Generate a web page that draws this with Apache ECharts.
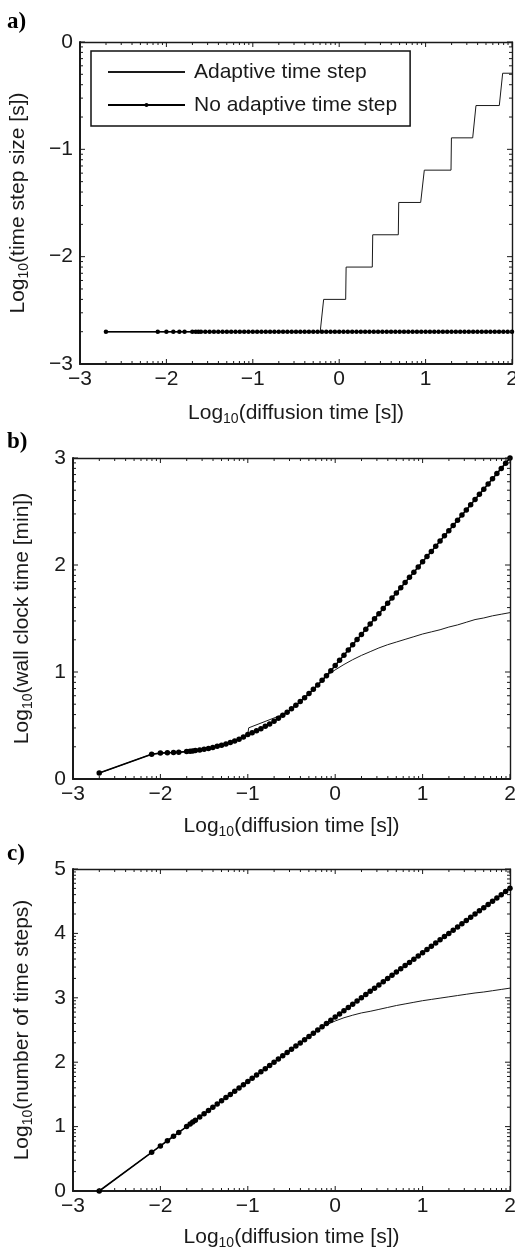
<!DOCTYPE html>
<html>
<head>
<meta charset="utf-8">
<script src="https://cdn.jsdelivr.net/npm/echarts@6/dist/echarts.min.js"></script>
<style>
html, body { margin: 0; padding: 0; background: #fff; }
#chart { width: 515px; height: 1257px; }
</style>
</head>
<body>
<div id="chart"></div>
<script>
// ---- data (all values are log10) ----
var X_TICKS = [-3, -2, -1, 0, 1, 2];
var PANEL_LABELS = ['a)', 'b)', 'c)'];
var Y_NAMES = ['time step size [s]', 'wall clock time [min]', 'number of time steps'];
var X_NAME = 'diffusion time [s]';

// time points of the run without adaptive stepping
var X_FIXED = [-2.70, -2.10, -2.00, -1.92, -1.85, -1.79, -1.70, -1.66, -1.63, -1.60,
  -1.55, -1.50, -1.45, -1.40, -1.35, -1.30, -1.25, -1.20, -1.15, -1.10, -1.05, -1.00,
  -0.95, -0.90, -0.85, -0.80, -0.75, -0.70, -0.65, -0.60, -0.55, -0.50, -0.45, -0.40,
  -0.35, -0.30, -0.25, -0.20, -0.15, -0.10, -0.05, 0.00, 0.05, 0.10, 0.15, 0.20, 0.25,
  0.30, 0.35, 0.40, 0.45, 0.50, 0.55, 0.60, 0.65, 0.70, 0.75, 0.80, 0.85, 0.90, 0.95,
  1.00, 1.05, 1.10, 1.15, 1.20, 1.25, 1.30, 1.35, 1.40, 1.45, 1.50, 1.55, 1.60, 1.65,
  1.70, 1.75, 1.80, 1.85, 1.90, 1.95, 2.00];

// a) time step size
var A_FIXED = [-2.7, -2.7, -2.7, -2.7, -2.7, -2.7, -2.7, -2.7, -2.7, -2.7,
  -2.7, -2.7, -2.7, -2.7, -2.7, -2.7, -2.7, -2.7, -2.7, -2.7, -2.7, -2.7,
  -2.7, -2.7, -2.7, -2.7, -2.7, -2.7, -2.7, -2.7, -2.7, -2.7, -2.7, -2.7,
  -2.7, -2.7, -2.7, -2.7, -2.7, -2.7, -2.7, -2.7, -2.7, -2.7, -2.7, -2.7, -2.7,
  -2.7, -2.7, -2.7, -2.7, -2.7, -2.7, -2.7, -2.7, -2.7, -2.7, -2.7, -2.7, -2.7, -2.7,
  -2.7, -2.7, -2.7, -2.7, -2.7, -2.7, -2.7, -2.7, -2.7, -2.7, -2.7, -2.7, -2.7, -2.7,
  -2.7, -2.7, -2.7, -2.7, -2.7, -2.7, -2.7];
var A_ADAPT_X = [-2.70, -0.22, -0.18, 0.075, 0.08, 0.383, 0.388, 0.684, 0.689,
  0.943, 0.985, 1.294, 1.299, 1.545, 1.583, 1.853, 1.892, 2.00];
var A_ADAPT_Y = [-2.7, -2.7, -2.398, -2.398, -2.097, -2.097, -1.796, -1.796, -1.495,
  -1.495, -1.194, -1.194, -0.893, -0.893, -0.592, -0.592, -0.291, -0.291];

// b) wall clock time
var B_FIXED = [0.055, 0.232, 0.242, 0.246, 0.248, 0.250, 0.256, 0.259, 0.262, 0.266,
  0.272, 0.278, 0.285, 0.294, 0.305, 0.316, 0.327, 0.340, 0.355, 0.371, 0.392, 0.415,
  0.432, 0.450, 0.470, 0.492, 0.515, 0.540, 0.567, 0.595, 0.625, 0.656, 0.689, 0.724,
  0.760, 0.798, 0.838, 0.879, 0.922, 0.966, 1.012, 1.060, 1.109, 1.157, 1.206, 1.254, 1.303,
  1.351, 1.400, 1.448, 1.497, 1.545, 1.594, 1.642, 1.691, 1.739, 1.788, 1.836, 1.885, 1.933, 1.982,
  2.030, 2.079, 2.127, 2.176, 2.224, 2.273, 2.321, 2.370, 2.418, 2.467, 2.515, 2.564, 2.612, 2.661,
  2.709, 2.758, 2.806, 2.855, 2.903, 2.952, 3.000];
var B_ADAPT_X = [-2.70, -2.10, -2.00, -1.85, -1.70, -1.60, -1.50, -1.40, -1.30, -1.20, -1.10, -1.00,
  -0.99, -0.60, -0.50, -0.40, -0.30, -0.20, -0.10, -0.05, 0.00,
  0.10, 0.20, 0.30, 0.40, 0.50, 0.60, 0.70, 0.80, 0.90, 1.00,
  1.10, 1.20, 1.30, 1.40, 1.50, 1.60, 1.70, 1.80, 1.90, 2.00];
var B_ADAPT_Y = [0.055, 0.232, 0.242, 0.248, 0.256, 0.266, 0.278, 0.294, 0.316, 0.340, 0.371, 0.415,
  0.478, 0.602, 0.656, 0.724, 0.798, 0.879, 0.962, 0.993, 1.020,
  1.070, 1.115, 1.155, 1.190, 1.225, 1.255, 1.280, 1.305, 1.330, 1.355,
  1.375, 1.395, 1.420, 1.440, 1.465, 1.490, 1.505, 1.525, 1.540, 1.555];

// c) number of time steps
var C_FIXED = [0.00, 0.60, 0.70, 0.78, 0.85, 0.91, 1.00, 1.04, 1.07, 1.10,
  1.15, 1.20, 1.25, 1.30, 1.35, 1.40, 1.45, 1.50, 1.55, 1.60, 1.65, 1.70,
  1.75, 1.80, 1.85, 1.90, 1.95, 2.00, 2.05, 2.10, 2.15, 2.20, 2.25, 2.30,
  2.35, 2.40, 2.45, 2.50, 2.55, 2.60, 2.65, 2.70, 2.75, 2.80, 2.85, 2.90, 2.95,
  3.00, 3.05, 3.10, 3.15, 3.20, 3.25, 3.30, 3.35, 3.40, 3.45, 3.50, 3.55, 3.60, 3.65,
  3.70, 3.75, 3.80, 3.85, 3.90, 3.95, 4.00, 4.05, 4.10, 4.15, 4.20, 4.25, 4.30, 4.35,
  4.40, 4.45, 4.50, 4.55, 4.60, 4.65, 4.70];
var C_ADAPT_X = [-2.70, -0.20, -0.15, -0.10, -0.05, 0.00,
  0.10, 0.20, 0.30, 0.40, 0.50, 0.60, 0.70, 0.80, 0.90, 1.00,
  1.10, 1.20, 1.30, 1.40, 1.50, 1.60, 1.70, 1.80, 1.90, 2.00];
var C_ADAPT_Y = [0.00, 2.50, 2.545, 2.58, 2.61, 2.64,
  2.69, 2.73, 2.765, 2.79, 2.82, 2.85, 2.88, 2.905, 2.93, 2.955,
  2.975, 2.995, 3.015, 3.035, 3.055, 3.075, 3.09, 3.11, 3.13, 3.15];

var Y_RANGES = [[-3, 0], [0, 3], [0, 5]];

// ---- layout / style ----
var FONT = '"Liberation Sans", Arial, Helvetica, sans-serif';
var INK = '#1a1a1a';
var GRIDS = [
  { left: 80, top: 42, width: 432, height: 322, outerBoundsMode: 'none' },
  { left: 73, top: 458, width: 437, height: 321, outerBoundsMode: 'none' },
  { left: 73, top: 869, width: 437, height: 322, outerBoundsMode: 'none' }
];
var X_NAME_GAP = [36, 34, 33];
var Y_NAME_GAP = [49, 38, 38];
var LABEL_TOP = [11, 431, 843];

function fmt(v) { return v < 0 ? '\u2212' + (-v) : String(v); }
function logName(txt) { return '{m|Log}{s|10}{m|(' + txt + ')}'; }

// tick list for the box: [value, isMajor, isY] ; minor ticks sit at n + log10(k)
function boxTicks(xlo, xhi, ylo, yhi) {
  var out = [];
  [[xlo, xhi, 0], [ylo, yhi, 1]].forEach(function (r) {
    for (var n = r[0]; n <= r[1]; n++) {
      out.push([n, 1, r[2]]);
      if (n < r[1]) for (var k = 2; k <= 9; k++) out.push([n + Math.log10(k), 0, r[2]]);
    }
  });
  return out;
}

var nameStyle = {
  color: INK, fontSize: 21, fontFamily: FONT,
  rich: {
    m: { fontSize: 21, fontFamily: FONT, color: INK },
    s: { fontSize: 14, fontFamily: FONT, color: INK, padding: [12, 0, 0, 0] }
  }
};

var xAxes = [], yAxes = [];
function addAxes(list, dim, g, min, max, name, gap) {
  var sides = dim === 'x' ? ['bottom', 'top'] : ['left', 'right'];
  sides.forEach(function (pos, si) {
    list.push({
      type: 'value', gridIndex: g, position: pos, min: min, max: max, interval: 1,
      axisLine: { show: true, onZero: false, lineStyle: { color: INK, width: si === 0 ? 2 : 1.4 } },
      axisTick: { show: false },
      axisLabel: {
        show: si === 0, formatter: fmt, margin: dim === 'x' ? 5 : 7,
        color: INK, fontSize: 21, fontFamily: FONT, showMinLabel: true, showMaxLabel: true
      },
      splitLine: { show: false },
      name: si === 0 ? name : '', nameLocation: 'middle', nameGap: gap,
      nameRotate: dim === 'y' ? 90 : 0, nameTextStyle: nameStyle
    });
  });
}
for (var g = 0; g < 3; g++) {
  addAxes(xAxes, 'x', g, X_TICKS[0], X_TICKS[X_TICKS.length - 1], logName(X_NAME), X_NAME_GAP[g]);
  addAxes(yAxes, 'y', g, Y_RANGES[g][0], Y_RANGES[g][1], logName(Y_NAMES[g]), Y_NAME_GAP[g]);
}

function pairs(xs, ys) { return xs.map(function (x, i) { return [x, ys[i]]; }); }
function adaptive(g, xs, ys) {
  return {
    name: 'Adaptive time step', type: 'line', xAxisIndex: 2 * g, yAxisIndex: 2 * g,
    data: pairs(xs, ys), symbol: 'none', clip: false, z: 2,
    lineStyle: { color: '#1a1a1a', width: 1 }, itemStyle: { color: '#1a1a1a' }
  };
}
function fixed(g, xs, ys, size) {
  return {
    name: 'No adaptive time step', type: 'line', xAxisIndex: 2 * g, yAxisIndex: 2 * g,
    data: pairs(xs, ys), symbol: 'circle', symbolSize: size, showAllSymbol: true,
    clip: false, z: 3, itemStyle: { color: '#000' }, lineStyle: { color: '#000', width: 1.6 }
  };
}
// inside ticks on all four sides of the box, placed through the axes' scales
function ticks(g) {
  var xlo = X_TICKS[0], ylo = Y_RANGES[g][0];
  return {
    type: 'custom', coordinateSystem: 'cartesian2d', xAxisIndex: 2 * g, yAxisIndex: 2 * g,
    silent: true, clip: false, z: 4,
    data: boxTicks(X_TICKS[0], X_TICKS[X_TICKS.length - 1], Y_RANGES[g][0], Y_RANGES[g][1]),
    renderItem: function (params, api) {
      var cs = params.coordSys;
      var v = api.value(0), major = api.value(1), isY = api.value(2);
      var len = major ? 5 : 3;
      var style = { stroke: INK, lineWidth: 1 };
      var a, b;
      if (!isY) {
        var px = api.coord([v, ylo])[0];
        a = { x1: px, y1: cs.y + cs.height, x2: px, y2: cs.y + cs.height - len };
        b = { x1: px, y1: cs.y, x2: px, y2: cs.y + len };
      } else {
        var py = api.coord([xlo, v])[1];
        a = { x1: cs.x, y1: py, x2: cs.x + len, y2: py };
        b = { x1: cs.x + cs.width, y1: py, x2: cs.x + cs.width - len, y2: py };
      }
      return { type: 'group', children: [
        { type: 'line', shape: a, style: style },
        { type: 'line', shape: b, style: style }
      ] };
    }
  };
}

var myChart = echarts.init(document.getElementById('chart'));
var option = {
  animation: false,
  backgroundColor: '#fff',
  grid: GRIDS,
  xAxis: xAxes,
  yAxis: yAxes,
  legend: {
    left: 91, top: 51, orient: 'vertical', padding: [9, 13, 9, 16], itemGap: 9,
    itemWidth: 77, itemHeight: 5, borderColor: '#111', borderWidth: 1.5,
    backgroundColor: '#fff', selectedMode: false, z: 10,
    textStyle: { fontSize: 21, fontFamily: FONT, color: INK, lineHeight: 24, padding: [0, 0, 0, 4] },
    data: [
      { name: 'Adaptive time step', itemStyle: { color: 'rgba(0,0,0,0)', borderWidth: 0 } },
      'No adaptive time step'
    ]
  },
  graphic: PANEL_LABELS.map(function (t, i) {
    return { type: 'text', left: 7, top: LABEL_TOP[i],
      style: { text: t, font: 'bold 23px "Liberation Serif", "Times New Roman", serif', fill: '#000' } };
  }),
  series: [
    ticks(0), adaptive(0, A_ADAPT_X, A_ADAPT_Y), fixed(0, X_FIXED, A_FIXED, 4.5),
    ticks(1), adaptive(1, B_ADAPT_X, B_ADAPT_Y), fixed(1, X_FIXED, B_FIXED, 5.5),
    ticks(2), adaptive(2, C_ADAPT_X, C_ADAPT_Y), fixed(2, X_FIXED, C_FIXED, 5.5)
  ]
};
myChart.setOption(option);
window.addEventListener('resize', function () {
  myChart.resize();
});
</script>
</body>
</html>
